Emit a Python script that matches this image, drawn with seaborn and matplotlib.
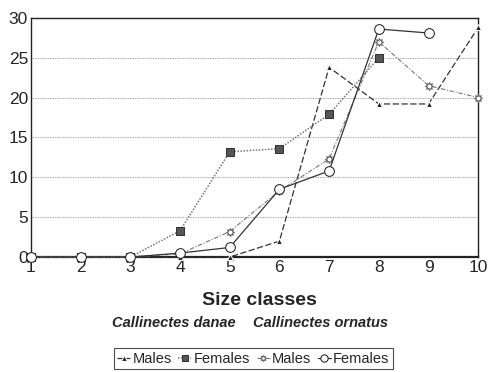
import pandas as pd
import matplotlib
matplotlib.use("Agg")
import matplotlib.pyplot as plt
import seaborn as sns

sns.set_style('white')
plt.rcParams['font.family'] = ['Liberation Sans', 'DejaVu Sans']

size_classes = [1, 2, 3, 4, 5, 6, 7, 8, 9, 10]
danae_males = [0, 0, 0, 0, 0, 2.0, 23.8, 19.2, 19.2, 28.8]
danae_females = [0, 0, 0, 3.3, 13.2, 13.6, 17.9, 25.0, None, None]
ornatus_males = [0, 0, 0, 0.4, 3.2, 8.3, 12.3, 27.0, 21.5, 20.0]
ornatus_females = [0, 0, 0, 0.5, 1.2, 8.5, 10.8, 28.6, 28.1, None]

series = [
    ("Males", danae_males, dict(marker='^', color='#333333', linestyle=(0, (5, 2)), markerfacecolor='#222222', markersize=5, lw=0.9)),
    ("Females", danae_females, dict(marker='s', color='#777777', linestyle=(0, (1, 1)), markerfacecolor='#555555', markeredgecolor='#333333', markersize=6, lw=1.1)),
    ("Males", ornatus_males, dict(marker=(8, 1, 0), color='#777777', linestyle=(0, (4, 1.5, 1, 1.5)), markerfacecolor='white', markeredgecolor='#666666', markersize=6, lw=0.8)),
    ("Females", ornatus_females, dict(marker='o', color='#333333', linestyle='-', markerfacecolor='white', markeredgecolor='#222222', markersize=7, lw=0.9)),
]

fig = plt.figure(figsize=(4.9, 3.72), dpi=100)
ax = fig.add_axes([0.063, 0.309, 0.913, 0.643])

handles = []
for name, vals, kw in series:
    df = pd.DataFrame({'x': size_classes, 'y': vals}).dropna()
    sns.lineplot(data=df, x='x', y='y', ax=ax, clip_on=False, zorder=3, sort=False, **kw)
    handles.append(ax.lines[-1])

ax.set_xlim(1, 10)
ax.set_ylim(0, 30)
ax.set_xticks(size_classes)
ax.set_yticks(range(0, 31, 5))
ax.tick_params(axis='both', length=0, labelsize=12.5, pad=2)
ax.tick_params(axis='x', pad=2)
ax.set_xlabel('')
ax.set_ylabel('')
for y in range(5, 30, 5):
    ax.axhline(y, color='#888888', lw=0.6, ls=(0, (1, 1)), zorder=1)
for s in ax.spines.values():
    s.set_color('#222222')
    s.set_linewidth(1.0)
ax.spines['bottom'].set_linewidth(1.6)

fig.text(0.53, 0.192, 'Size classes', ha='center', va='center', fontsize=14,
         fontweight='bold', family=['Liberation Sans Narrow', 'Liberation Sans'])
fig.text(0.355, 0.132, 'Callinectes danae', ha='center', va='center', fontsize=10.5,
         fontweight='bold', style='italic', family=['Liberation Sans Narrow', 'Liberation Sans'])
fig.text(0.655, 0.132, 'Callinectes ornatus', ha='center', va='center', fontsize=10.5,
         fontweight='bold', style='italic', family=['Liberation Sans Narrow', 'Liberation Sans'])

leg = fig.legend(handles, [s[0] for s in series], loc='center', bbox_to_anchor=(0.517, 0.036),
                 ncol=4, fontsize=10.5, handlelength=0.9, handletextpad=0.15, columnspacing=0.45,
                 markerscale=0.75, frameon=True, fancybox=False, borderpad=0.25, borderaxespad=0)
leg.get_frame().set_edgecolor('#222222')
leg.get_frame().set_linewidth(0.8)

fig.savefig('out.png', dpi=100)
